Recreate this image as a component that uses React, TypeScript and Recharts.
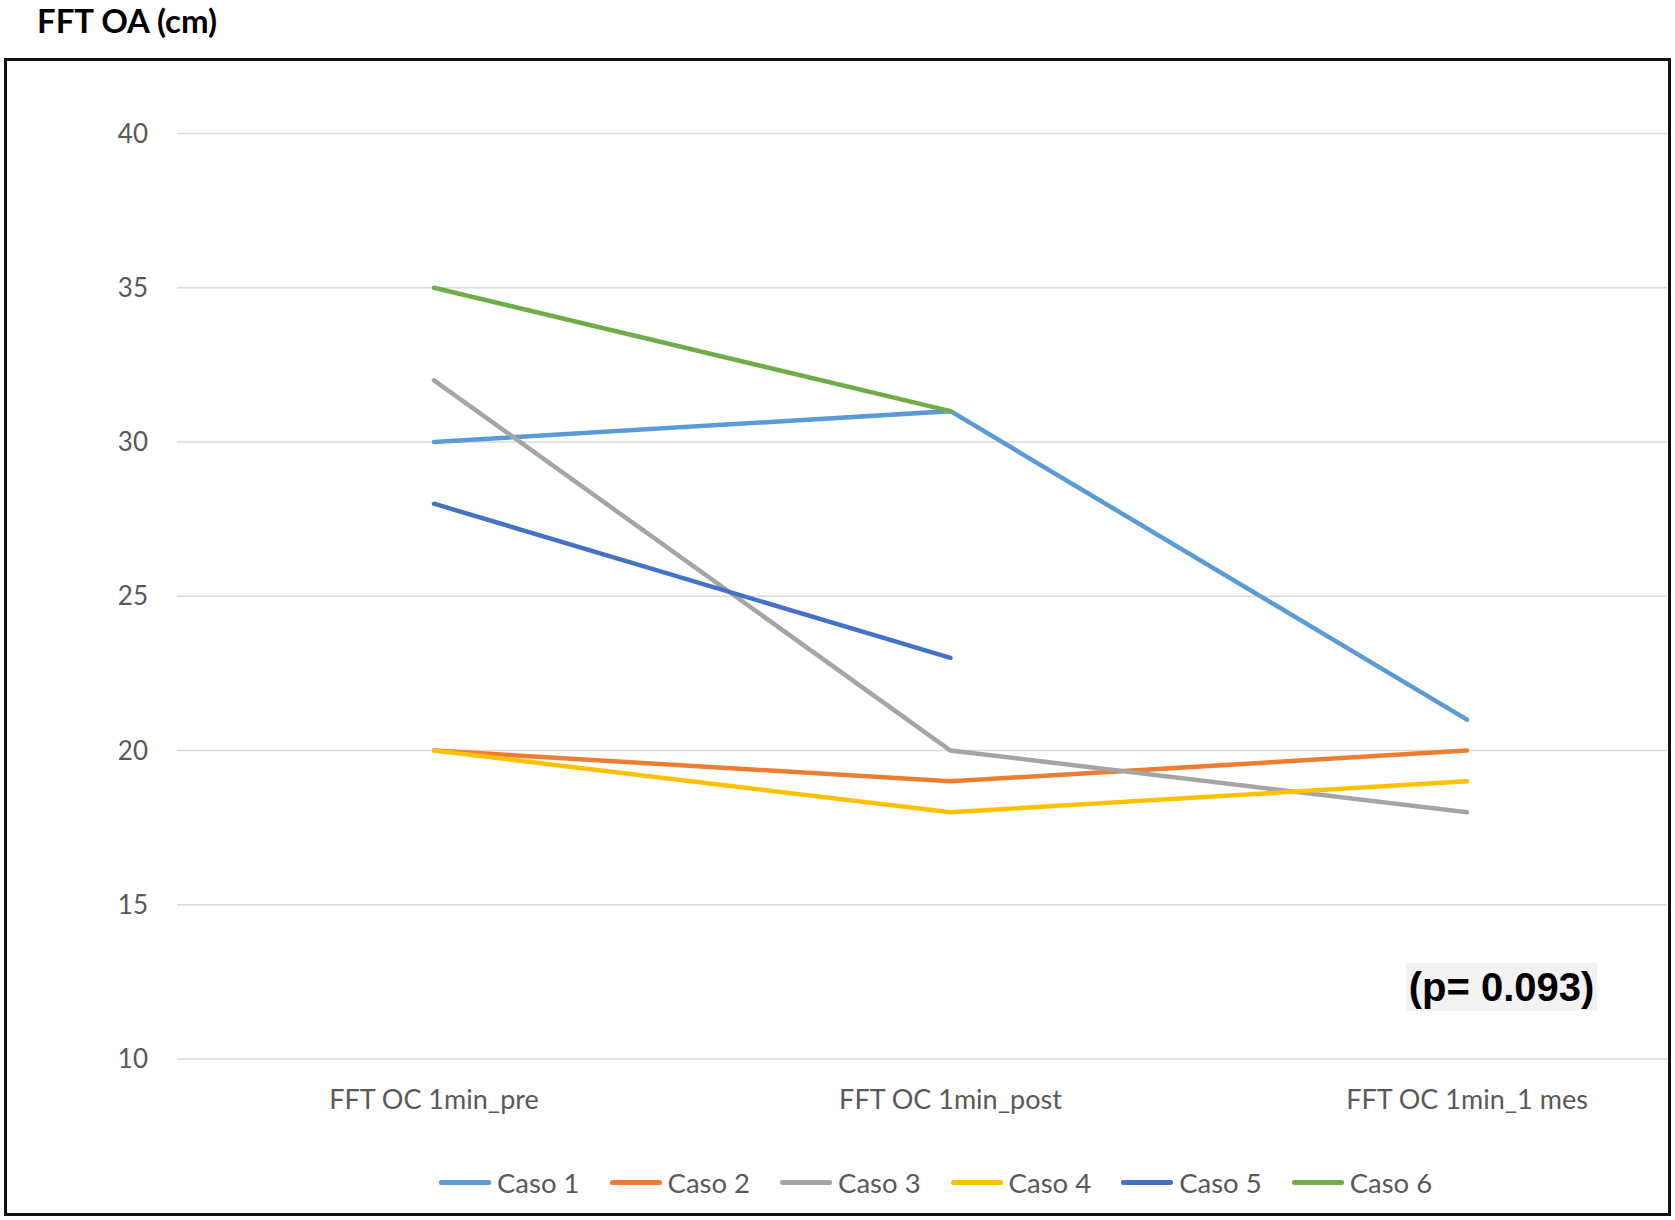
import React from 'react';
import { LineChart, Line, XAxis, YAxis, CartesianGrid, Legend } from 'recharts';

const momentos = ['FFT OC 1min_pre', 'FFT OC 1min_post', 'FFT OC 1min_1 mes'];

const caso1 = [30, 31, 21];
const caso2 = [20, 19, 20];
const caso3 = [32, 20, 18];
const caso4 = [20, 18, 19];
const caso5 = [28, 23, null];
const caso6 = [35, 31, null];

const ticksY = [10, 15, 20, 25, 30, 35, 40];

const series = [
  { key: 'Caso 1', values: caso1, color: '#5B9BD5' },
  { key: 'Caso 2', values: caso2, color: '#ED7D31' },
  { key: 'Caso 3', values: caso3, color: '#A5A5A5' },
  { key: 'Caso 4', values: caso4, color: '#FFC000' },
  { key: 'Caso 5', values: caso5, color: '#4472C4' },
  { key: 'Caso 6', values: caso6, color: '#70AD47' },
];

const datos = momentos.map((m, i) => {
  const fila: Record<string, string | number | null> = { momento: m };
  series.forEach(s => {
    fila[s.key] = s.values[i];
  });
  return fila;
});

const gris = '#595959';
const fuente = 'Lato, "Open Sans", sans-serif';

const renderLeyenda = (props: any) => {
  const { payload } = props;
  return (
    <div style={{ display: 'flex', alignItems: 'center', fontFamily: fuente, fontSize: 27.5, color: gris }}>
      {payload.map((e: any) => (
        <div key={e.value} style={{ display: 'flex', alignItems: 'center', marginRight: 30 }}>
          <span
            style={{
              display: 'inline-block',
              width: 52,
              height: 5,
              background: e.color,
              borderRadius: 2,
              marginRight: 6,
            }}
          />
          {e.value}
        </div>
      ))}
    </div>
  );
};

const App = () => {
  return (
    <div style={{ position: 'absolute', left: 0, top: 0, width: 1675, height: 1220, background: '#fff', overflow: 'hidden' }}>
      <div
        style={{
          position: 'absolute',
          left: 37,
          top: 0,
          fontFamily: fuente,
          fontWeight: 700,
          fontSize: 33,
          lineHeight: 'normal',
          color: '#000',
        }}
      >
        FFT OA (cm)
      </div>
      <div
        style={{
          position: 'absolute',
          left: 4,
          top: 58,
          width: 1667,
          height: 1158,
          boxSizing: 'border-box',
          border: '3px solid #111',
        }}
      />
      <div style={{ position: 'absolute', left: 0, top: 0 }}>
        <LineChart width={1675} height={1220} data={datos} margin={{ top: 133.5, right: 8, bottom: 101, left: 0 }}>
          <CartesianGrid vertical={false} stroke="#d9d9d9" strokeWidth={1.5} />
          <XAxis
            dataKey="momento"
            height={60}
            axisLine={false}
            tickLine={false}
            tickSize={0}
            tickMargin={31}
            padding={{ left: 257, right: 200 }}
            tick={{ fill: gris, fontSize: 27, fontFamily: fuente }}
          />
          <YAxis
            domain={[10, 40]}
            ticks={ticksY}
            width={177}
            axisLine={false}
            tickLine={false}
            tickSize={0}
            tickMargin={29}
            tick={{ fill: gris, fontSize: 26, fontFamily: fuente }}
          />
          <Legend
            layout="horizontal"
            verticalAlign="middle"
            align="center"
            wrapperStyle={{ top: 1166, left: 439, width: 1200 }}
            content={renderLeyenda}
          />
          {series.map(s => (
            <Line
              key={s.key}
              type="linear"
              dataKey={s.key}
              name={s.key}
              stroke={s.color}
              strokeWidth={4.5}
              strokeLinecap="round"
              dot={false}
              activeDot={false}
              isAnimationActive={false}
            />
          ))}
        </LineChart>
      </div>
      <div
        style={{
          position: 'absolute',
          left: 1406,
          top: 963,
          width: 191,
          height: 48,
          background: '#f2f2f2',
          fontFamily: '"Liberation Sans", Arial, sans-serif',
          fontWeight: 700,
          fontSize: 40,
          lineHeight: '48px',
          textAlign: 'center',
          color: '#000',
        }}
      >
        (p= 0.093)
      </div>
    </div>
  );
};

export default App;
